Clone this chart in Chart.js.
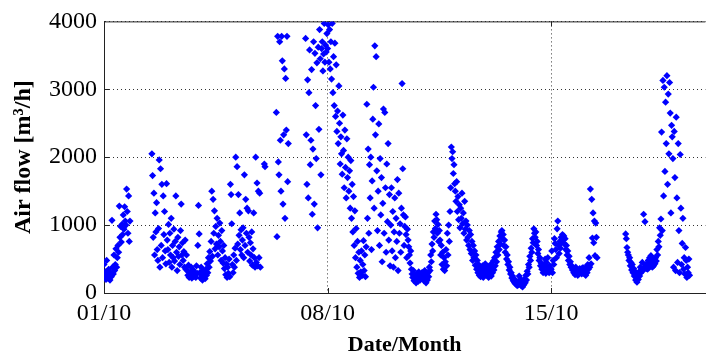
<!DOCTYPE html>
<html>
<head>
<meta charset="utf-8">
<script src="https://cdn.jsdelivr.net/npm/chart.js@4.4.1/dist/chart.umd.min.js"></script>
<style>
  html, body { margin: 0; padding: 0; background: #fff; }
  #wrap { width: 709px; height: 354px; }
</style>
</head>
<body>
<div id="wrap"><canvas id="airflow"></canvas></div>
<script>
// air flow, half-hour samples, one array per day (null = no measurement)
const dateTicks = ["01/10", "08/10", "15/10"];
const tickDays = [0, 7, 14];
const flowTicks = [0, 1000, 2000, 3000, 4000];

const flowOct01 = [420,250,310,200,480,280,220,350,260,190, 300,240,1070,380,280,560,330,420,650,380,
  520,700,600,1280,820,980,750,1010,860,1150, 940,1270,1060,1000,1530,1200,880,1430,760,1060,
  null,null,null,null,null,null,null,null];
const flowOct02 = [null,null,null,null,null,null,null,null,null,null,null,null,
  null,null,null,null,null,null,null,null,null,null,null,null,
  2050,1730,820,1470,560,1180,900,1330,640,480, 950,1960,380,1830,700,1600,520,1430,860,1200,
  620,430,1610,780];
const flowOct03 = [640,1010,450,880,560,1100,380,700,520,940, 470,760,1430,600,330,820,540,680,420,920,
  1310,560,740,480,610,380,780,350,560,330, 260,410,230,300,250,380,220,280,340,240,
  310,270,230,400,290,700,1290,870];
const flowOct04 = [300,220,380,260,190,330,240,280,210,350, 260,430,300,520,380,610,470,760,1500,540,
  1380,880,1210,650,980,720,1100,560,850,680, 1030,760,480,920,620,440,700,360,520,270,
  430,230,380,290,500,240,1600,1450];
const flowOct05 = [1020,420,300,560,380,660,2000,480,1860,720, 1450,850,1180,640,930,560,780,960,520,1740,
  700,1380,880,1250,600,1210,820,470,740,560, 900,410,650,1180,520,380,2000,450,1620,400,
  1500,520,1470,380,null,null,null,null];
const flowOct06 = [null,1900,1860,null,null,null,null,null,null,null,null,null,null,null,null,null,null,null,null,
  2660,830,3780,1930,1740,3700,2250,1500,3780,3420, 1310,2330,3300,1100,3160,2400,3780,1640,2200,
  null,null,null,null,null,null,null,null,null,null];
const flowOct07 = [null,null,null,null,null,null,null,null,null,null,null,null,null,null,null,
  3750,2330,1600,3140,1400,2950,3580,1890,2250,3290, 1160,2120,3700,1310,3530,2760,1980,3390,960,3620,
  2410,3880,3450,1740,3600,3700,3270,3520,3970,3400, 3650,3550,3820];
const flowOct08 = [3600,3950,3400,3880,3300,3700,3150,3970,2950,3480, 2760,3680,2600,3360,2380,2680,2200,3050,2500,1900,
  2300,2050,1750,2620,2100,1550,2400,1850,1400,2270, 1700,2000,1500,1800,1250,1950,1100,1600,900,1420,
  700,1210,520,950,380,760,290,600];
const flowOct09 = [230,480,310,620,260,420,770,330,560,240, 680,2780,1100,2120,880,1890,1400,2000,640,1650,
  2560,3030,1250,3640,2330,3480,1800,920,1500,2490, 700,1980,1150,1700,460,1320,2710,880,2660,1550,
  600,1900,1050,2200,780,1450,400,1000];
const flowOct10 = [1550,620,1200,380,900,1400,520,1100,760,1670, 330,1470,880,1020,600,1250,3085,1830,1150,700,
  980,1120,860,520,940,780,680,560,440,620, 350,280,230,330,180,260,200,150,280,220,
  170,310,240,190,260,220,300,250];
const flowOct11 = [280,180,330,210,150,260,190,300,240,380, 330,560,460,720,620,900,820,1060,950,1160,
  1080,880,1010,760,920,780,560,700,420,600, 350,520,330,460,640,400,880,560,1000,760,
  1200,1550,2150,1980,2080,1760,1890,1610];
const flowOct12 = [1500,1350,1640,1200,1420,1080,1300,960,1250,1100, 1470,1020,1180,880,1350,940,1060,780,1000,820,
  700,920,640,860,580,760,480,700,520,620, 410,560,350,480,300,420,260,380,240,330,
  280,400,230,350,270,430,300,360];
const flowOct13 = [260,380,230,330,280,420,250,360,300,470, 340,520,400,600,460,680,560,760,640,840,
  720,900,920,800,860,700,780,600,680,500, 560,420,460,340,380,280,300,220,250,180,
  210,150,190,130,170,110,150,120];
const flowOct14 = [250,140,200,110,180,90,160,120,210,150, 260,190,320,280,420,380,540,480,660,600,
  800,740,945,880,820,900,700,760,580,640, 480,520,400,440,350,380,300,420,330,500,
  290,450,380,520,340,300,400,360];
const flowOct15 = [350,620,300,480,420,800,730,640,520,945, 1060,700,580,760,660,820,740,860,780,840,
  720,800,640,700,560,620,480,540,420,460, 380,400,340,360,300,330,270,380,290,350,
  260,320,280,360,300,340,280,370];
const flowOct16 = [300,370,280,330,260,380,300,420,350,520, 380,1530,430,1380,810,1180,740,1060,550,1030,
  820,520,null,null,null,null,null,null,null,null,null,null,null,null,null,null,null,null,
  null,null,null,null,null,null,null,null,null,null];
const flowOct17 = [null,null,null,null,null,null,null,null,null,null,null,null,null,null,null,null,
  870,800,670,600,560,480,520,400,450,340, 420,300,360,250,320,190,280,160,230,200,
  310,250,380,300,350,450,330,1160,380,1050, 420,360];
const flowOct18 = [420,350,480,380,520,400,550,440,380,470, 400,500,430,520,470,640,560,760,680,960,
  850,1090,2370,920,3130,1430,3030,1790,2810,2200, 3200,1600,2930,2050,3100,2650,1180,2470,2300,1980,
  380,2380,1700,330,2590,1400,450,2200];
const flowOct19 = [920,300,2040,1250,420,730,1100,350,520,280, 670,480,230,380,300,500,260,
  null,null,null,null,null,null,null,null,null,null,null,null,null,null,null,null,
  null,null,null,null,null,null,null,null,null,null,null,null,null,null,null];

const allDays = [flowOct01, flowOct02, flowOct03, flowOct04, flowOct05, flowOct06, flowOct07,
  flowOct08, flowOct09, flowOct10, flowOct11, flowOct12, flowOct13, flowOct14, flowOct15,
  flowOct16, flowOct17, flowOct18, flowOct19];

const points = [];
allDays.forEach((day, d) => {
  day.forEach((v, i) => {
    if (v !== null) points.push({ x: d + i / 48, y: v });
  });
});

const serif = "'Liberation Serif', 'Times New Roman', serif";

// top border line and small inward tick marks (matlab style box)
const frame = {
  id: "frame",
  beforeDatasetsDraw(chart) {
    const { ctx, chartArea: a, scales: { x, y } } = chart;
    ctx.save();
    ctx.strokeStyle = "#222";
    ctx.lineWidth = 1;
    ctx.beginPath();
    ctx.moveTo(a.left, a.top + 0.5);
    ctx.lineTo(a.right, a.top + 0.5);
    tickDays.slice(1).forEach((t) => {
      const px = Math.round(x.getPixelForValue(t)) + 0.5;
      ctx.moveTo(px, a.top);
      ctx.lineTo(px, a.top + 5);
      ctx.moveTo(px, a.bottom);
      ctx.lineTo(px, a.bottom - 5);
    });
    flowTicks.slice(1, -1).forEach((t) => {
      const py = Math.round(y.getPixelForValue(t)) + 0.5;
      ctx.moveTo(a.left, py);
      ctx.lineTo(a.left + 5, py);
    });
    ctx.stroke();
    ctx.restore();
  },
};

new Chart(document.getElementById("airflow"), {
  type: "scatter",
  data: {
    datasets: [{
      data: points,
      pointStyle: "rectRot",
      pointRadius: 3.6,
      pointHoverRadius: 3.6,
      backgroundColor: "#0000ff",
      borderColor: "#0000ff",
      borderWidth: 0,
    }],
  },
  options: {
    responsive: true,
    maintainAspectRatio: false,
    animation: false,
    layout: { padding: { top: 18, right: 0, left: 0, bottom: 0 } },
    plugins: { legend: { display: false }, tooltip: { enabled: false } },
    scales: {
      x: {
        type: "linear",
        min: 0,
        max: 18.83,
        afterBuildTicks: (ax) => { ax.ticks = tickDays.map((v) => ({ value: v })); },
        afterFit: (ax) => { ax.height = 61; },
        ticks: {
          color: "#000",
          font: { family: serif, size: 24 },
          padding: 6,
          maxRotation: 0,
          callback: (v) => dateTicks[tickDays.indexOf(v)],
        },
        grid: { color: "#333", drawTicks: false },
        border: { color: "#222", dash: [1, 3] },
        title: {
          display: true,
          text: "Date/Month",
          color: "#000",
          font: { family: serif, size: 22, weight: "bold", lineHeight: 0.75 },
          padding: { top: 0, bottom: 0 },
        },
      },
      y: {
        min: 0,
        max: 4000,
        afterBuildTicks: (ax) => { ax.ticks = flowTicks.map((v) => ({ value: v })); },
        afterFit: (ax) => { ax.width = 104; },
        ticks: {
          color: "#000",
          font: { family: serif, size: 24 },
          padding: 7,
          callback: (v) => String(v),
        },
        grid: { color: "#333", drawTicks: false },
        border: { color: "#222", dash: [1, 3] },
        title: {
          display: true,
          text: "Air flow [m³/h]",
          color: "#000",
          font: { family: serif, size: 24, weight: "bold" },
          padding: { top: 9, bottom: 0 },
        },
      },
    },
  },
  plugins: [frame],
});
</script>
</body>
</html>
